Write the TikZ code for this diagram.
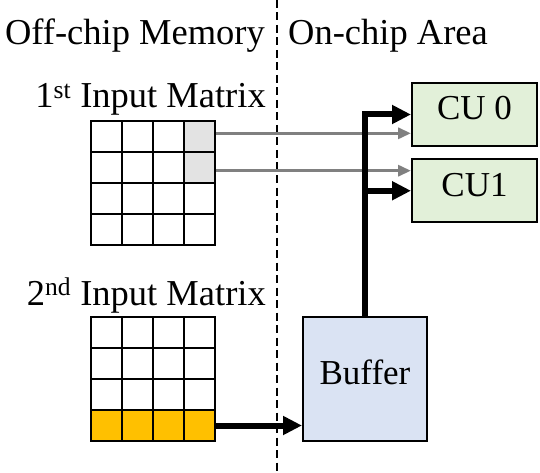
\documentclass[tikz,border=0pt]{standalone}
\usepackage{fontspec}
\setmainfont{Liberation Serif}
\usetikzlibrary{arrows.meta,calc}
\definecolor{cugreen}{HTML}{E2F0D9}
\definecolor{bufblue}{HTML}{DAE3F3}
\definecolor{cellgray}{HTML}{E3E3E3}
\definecolor{cellorange}{HTML}{FFC000}
\definecolor{arrowgray}{HTML}{808080}
\tikzset{
  lbl/.style={font=\fontsize{36.5}{44}\selectfont, inner sep=0pt},
  cell/.style={draw, line width=2pt, minimum width=31pt, minimum height=31pt, inner sep=0pt, fill=white},
  unitbox/.style={draw, line width=2pt, inner sep=0pt, font=\fontsize{35}{42}\selectfont, text height=23pt, text depth=12pt},
  grayarrow/.style={color=arrowgray, line width=3.2pt, -{Triangle[length=13pt,width=11pt]}},
  boldarrow/.style={line width=6pt, -{Triangle[length=19pt,width=18pt]}},
  divider/.style={line width=2pt, dash pattern=on 8pt off 4.5pt},
}
\begin{document}
\begin{tikzpicture}[x=1pt,y=-1pt]
\useasboundingbox (0,0) rectangle (540,473);
% divider
\coordinate (divtop) at (277,0);
\coordinate (divbot) at (277,473);
\draw[divider] (divtop) -- (divbot);
% headers
\node[lbl, anchor=base] (offchip) at (135,45) {Off-chip Memory};
\node[lbl, anchor=base] (onchip) at (388,45) {On-chip Area};
\node[lbl, anchor=base east] (lab1) at (266,108) {1\textsuperscript{st} Input Matrix};
\node[lbl, anchor=base east] (lab2) at (266,305) {2\textsuperscript{nd} Input Matrix};
% matrices
\foreach \r in {1,...,4}{
  \foreach \c in {1,...,4}{
    \node[cell] (m1-\r-\c) at ({91+31*(\c-0.5)},{121+31*(\r-0.5)}) {};
    \node[cell] (m2-\r-\c) at ({91+31*(\c-0.5)},{317+31*(\r-0.5)}) {};
  }
}
\node[cell, fill=cellgray] at (m1-1-4) {};
\node[cell, fill=cellgray] at (m1-2-4) {};
\foreach \c in {1,...,4}{\node[cell, fill=cellorange] at (m2-4-\c) {};}
% units
\node[unitbox, fill=cugreen, minimum width=125pt, minimum height=63pt] (cu0) at (474.5,114.5) {CU 0};
\node[unitbox, fill=cugreen, minimum width=125pt, minimum height=62.5pt] (cu1) at (474.5,190.75) {CU1};
\node[unitbox, fill=bufblue, minimum width=124pt, minimum height=124pt] (buf) at (365,379) {Buffer};
% gray arrows
\coordinate (g1) at ([yshift=3.2pt]m1-1-4.east);
\coordinate (g2) at ([yshift=-3.2pt]m1-2-4.east);
\draw[grayarrow] (g1) -- (g1 -| cu0.west);
\draw[grayarrow] (g2) -- (g2 -| cu1.west);
% bold arrows
\draw[boldarrow] (buf.north) |- (cu0.west);
\draw[boldarrow] (buf.north |- cu1.west) -- (cu1.west);
\draw[boldarrow] (m2-4-4.east) -- (m2-4-4.east -| buf.west);
\end{tikzpicture}
\end{document}
